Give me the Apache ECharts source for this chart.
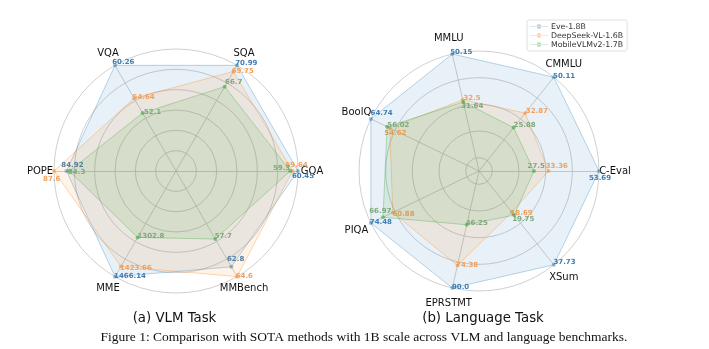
<!DOCTYPE html>
<html>
<head>
<meta charset="utf-8">
<script src="https://cdn.jsdelivr.net/npm/echarts@6/dist/echarts.min.js"></script>
<style>
html,body{margin:0;padding:0;background:#fff;}
#chart{width:709px;height:349px;}
</style>
</head>
<body>
<div id="chart"></div>
<script>
// ---- data ----
const seriesNames = ['Eve-1.8B', 'DeepSeek-VL-1.6B', 'MobileVLMv2-1.7B'];

const vlmAxes = ['GQA', 'SQA', 'VQA', 'POPE', 'MME', 'MMBench'];
const vlmEve = [60.45, 70.99, 60.26, 84.92, 1466.14, 62.8];
const vlmDeep = [59.64, 69.75, 54.64, 87.6, 1423.66, 64.6];
const vlmMobile = [59.3, 66.7, 52.1, 84.3, 1302.8, 57.7];

const langAxes = ['C-Eval', 'CMMLU', 'MMLU', 'BoolQ', 'PIQA', 'EPRSTMT', 'XSum'];
const langEve = [53.69, 50.11, 50.15, 64.74, 74.48, 90.0, 37.73];
const langDeep = [33.36, 32.87, 32.5, 54.62, 60.88, 74.38, 18.69];
const langMobile = [27.5, 25.88, 31.64, 56.02, 66.97, 46.25, 19.75];

const subTitles = ['(a) VLM Task', '(b) Language Task'];
const caption = 'Figure 1: Comparison with SOTA methods with 1B scale across VLM and language benchmarks.';

// ---- styling / layout ----
const colors = ['#1f77b4', '#ff7f0e', '#2ca02c'];
const symbolColors = ['rgba(31,119,180,0.45)', 'rgba(255,127,14,0.45)', 'rgba(44,160,44,0.5)'];
const labelColors = ['#3f7db5', '#f2a05c', '#7fa87f'];
const legendColors = ['#b4cde3', '#fdcfa6', '#b5dbb5'];
const vlmFloor = 0.7;   // radial axis starts at 70% of axis maximum
const langFloor = 0.1;  // radial axis starts at 10% of axis maximum

// label offsets (px) per series per axis
const vlmOffsets = [
  [[5,5.3],[9.3,-2.3],[8.3,-2.7],[6,-5.7],[15,-0.7],[4.3,-8]],
  [[4,-5.7],[9.3,-0.7],[9.7,-1.3],[-2.3,8.3],[15,1.7],[7.3,-0.7]],
  [[-8.7,-2.7],[9,-4.3],[10,-0.7],[7.3,0.7],[13.3,-1.7],[8,-3.3]]
];
const langOffsets = [
  [[1,7],[10.3,-1.3],[9,-1.7],[10.7,-6],[10,-0.7],[8.3,-1],[10.7,-2.3]],
  [[8.3,-4.7],[11.7,-2.3],[9.3,-1.7],[5.7,5.3],[10.7,1.3],[9.7,0],[9.7,0.7]],
  [[2.3,-5],[11,-2],[9,4.7],[11.3,-1.7],[-2.7,-5.7],[10,-2],[9,4]]
];

const FONT = 'DejaVu Sans';

function fmt(v) {
  return Number.isInteger(v) ? v.toFixed(1) : String(v);
}

function buildIndicators(names, sets, floor) {
  return names.map((n, i) => {
    const mx = Math.max(...sets.map(s => s[i]));
    return { name: n, max: mx, min: mx * floor };
  });
}

function padFor(dx, dy) {
  return [Math.max(0, 2*dy), Math.max(0, -2*dx), Math.max(0, -2*dy), Math.max(0, 2*dx)];
}

function makeSeries(radarIndex, sets, offsets, prefix) {
  return sets.map((vals, si) => {
    const rich = {};
    vals.forEach((v, di) => {
      const o = offsets[si][di];
      rich[prefix + si + 'd' + di] = {
        padding: padFor(o[0], o[1]),
        color: labelColors[si],
        fontFamily: FONT,
        fontWeight: 'bold',
        fontSize: 7,
        opacity: 1
      };
    });
    return {
      type: 'radar',
      radarIndex: radarIndex,
      name: seriesNames[si],
      symbol: 'circle',
      symbolSize: 4,
      z: 2 + si,
      lineStyle: { color: colors[si], width: 1, opacity: 0.3 },
      itemStyle: { color: symbolColors[si], opacity: 1 },
      areaStyle: { color: colors[si], opacity: 0.1 },
      label: {
        show: true,
        position: 'inside',
        opacity: 1,
        formatter: function (p) {
          let di = p.dimensionIndex;
          let v = p.value;
          if (Array.isArray(v)) v = v[di];
          if (di == null) di = vals.indexOf(v);
          return '{' + prefix + si + 'd' + di + '|' + fmt(v) + '}';
        },
        rich: rich
      },
      data: [{ value: vals, name: seriesNames[si] }]
    };
  });
}

const vlmSets = [vlmEve, vlmDeep, vlmMobile];
const langSets = [langEve, langDeep, langMobile];

const gridColor = '#c4c4c4';

const option = {
  animation: false,
  backgroundColor: '#ffffff',
  legend: {
    orient: 'vertical',
    left: 527, top: 20,
    padding: [2, 4, 2, 3],
    itemGap: 0,
    itemWidth: 18,
    itemHeight: 9,
    borderColor: '#d8d8d8',
    borderWidth: 0.8,
    borderRadius: 2,
    textStyle: { fontFamily: FONT, fontSize: 7.8, color: '#333', lineHeight: 9, padding: [0,0,0,-2] },
    icon: 'path://M0,4.6 H20 V5.4 H0 Z M10,2.4 A2.6,2.6 0 1,0 10,7.6 A2.6,2.6 0 1,0 10,2.4 Z',
    data: seriesNames.map((n, i) => ({ name: n, itemStyle: { color: legendColors[i] } }))
  },
  radar: [
    {
      center: [176, 171], radius: 122, startAngle: 0, shape: 'circle', splitNumber: 6,
      indicator: buildIndicators(vlmAxes, vlmSets, vlmFloor),
      axisName: { color: '#111', fontSize: 10, fontFamily: FONT, align: 'center', verticalAlign: 'middle' },
      nameGap: 14,
      splitLine: { lineStyle: { color: gridColor, width: 0.8 } },
      splitArea: { show: false },
      axisLine: { lineStyle: { color: gridColor, width: 0.8 } },
      axisTick: { show: false }, axisLabel: { show: false }
    },
    {
      center: [479, 171], radius: 120, startAngle: 0, shape: 'circle', splitNumber: 9,
      indicator: buildIndicators(langAxes, langSets, langFloor),
      axisName: { color: '#111', fontSize: 10, fontFamily: FONT, align: 'center', verticalAlign: 'middle' },
      nameGap: 16,
      splitLine: { lineStyle: { color: ['rgba(0,0,0,0)', gridColor], width: 0.8 } },
      splitArea: { show: false },
      axisLine: { lineStyle: { color: gridColor, width: 0.8 } },
      axisTick: { show: false }, axisLabel: { show: false }
    }
  ],
  series: [].concat(makeSeries(0, vlmSets, vlmOffsets, 'a'), makeSeries(1, langSets, langOffsets, 'b')),
  graphic: [
    { type: 'text', x: 174.5, y: 319, style: { text: subTitles[0], font: '13.3px "DejaVu Sans"', fill: '#111', align: 'center', verticalAlign: 'middle' } },
    { type: 'text', x: 483, y: 319, style: { text: subTitles[1], font: '13.3px "DejaVu Sans"', fill: '#111', align: 'center', verticalAlign: 'middle' } },
    { type: 'text', x: 364, y: 337, style: { text: caption, font: '13.5px "Liberation Serif"', fill: '#111', align: 'center', verticalAlign: 'middle' } }
  ]
};

const chart = echarts.init(document.getElementById('chart'), null, { renderer: 'canvas' });
chart.setOption(option);
</script>
</body>
</html>
